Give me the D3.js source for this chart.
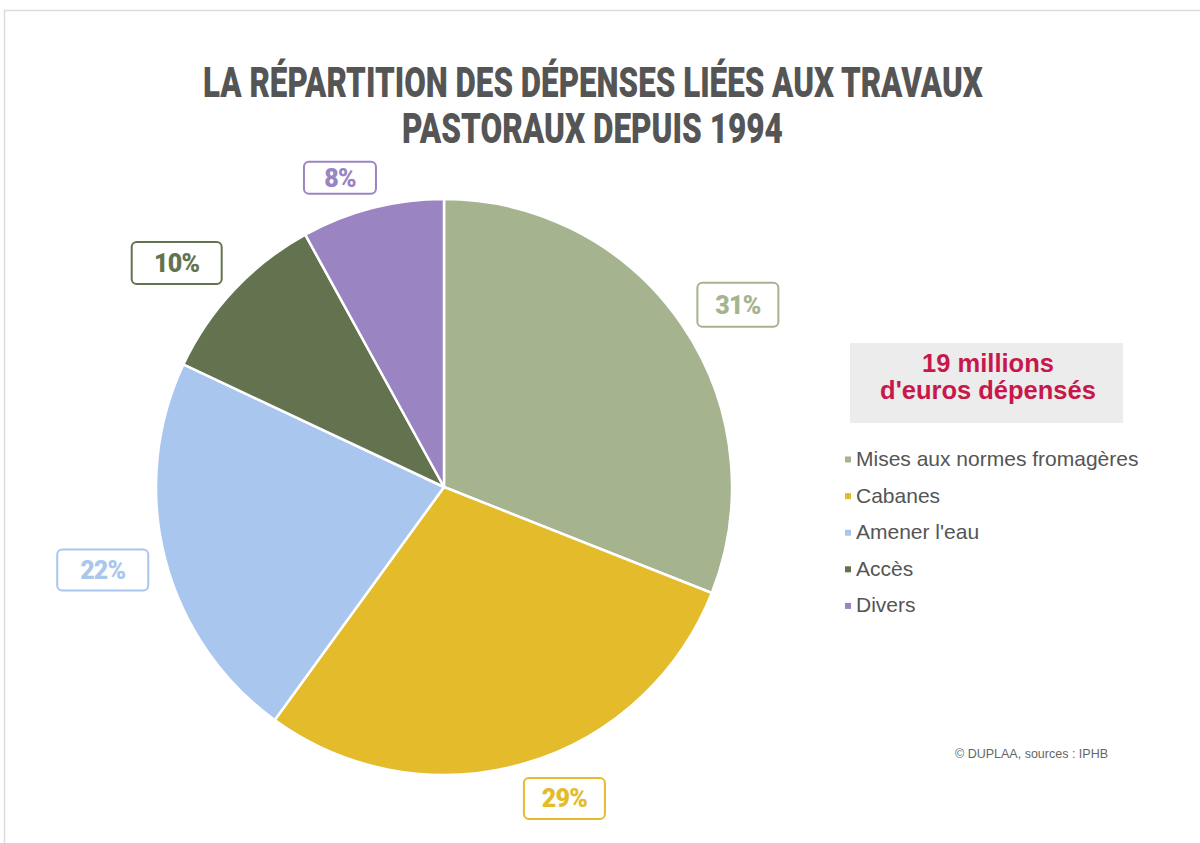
<!DOCTYPE html>
<html>
<head>
<meta charset="utf-8">
<script src="https://cdn.jsdelivr.net/npm/d3@7"></script>
<style>
  body { margin: 0; background: #fff; }
  svg { display: block; }
</style>
</head>
<body>
<svg id="chart"></svg>
<script>
// data
var categories = ["Mises aux normes fromagères", "Cabanes", "Amener l'eau", "Accès", "Divers"];
var shares = [31, 29, 22, 10, 8];
var colors = ["#a5b48f", "#e3bb2b", "#a9c6ee", "#63734f", "#9b84c2"];
var titleLines = ["LA RÉPARTITION DES DÉPENSES LIÉES AUX TRAVAUX", "PASTORAUX DEPUIS 1994"];
var totalLines = ["19 millions", "d'euros dépensés"];
var credit = "© DUPLAA, sources : IPHB";

// label box layout (nudges from the centroid, box sizes)
var labelNudge = [[11, 10], [25, -17], [-10, -2], [-18, 10], [-19, 22]];
var boxSize = [[81, 44], [81, 41], [91, 41], [90, 42], [72, 32]];

function init() {
    var w = 1200;
    var h = 843;

    var svg = d3.select("#chart")
        .attr("width", w)
        .attr("height", h);

    // light frame round the graphic
    svg.append("path")
        .attr("d", "M4.5," + h + "V10.5H" + w)
        .attr("fill", "none")
        .attr("stroke", "#dcdcdc")
        .attr("stroke-width", 1.5);

    // title, squeezed like a condensed face
    var titleX = [203, 402];
    var titleWidths = [780, 381];
    svg.selectAll("text.title")
        .data(titleLines)
        .enter()
        .append("text")
        .attr("class", "title")
        .style("font-family", "Roboto, 'Liberation Sans', sans-serif")
        .style("font-weight", 900)
        .style("font-size", "42px")
        .attr("fill", "#555555")
        .text(function(d){ return d; })
        .attr("transform", function(d, i){
            var natural = this.getComputedTextLength();
            return "translate(" + titleX[i] + "," + (97 + i * 46) + ") scale(" + (titleWidths[i] / natural) + ",1)";
        });

    //pie
    var cx = 444, cy = 487;
    var outerRadius = 288;

    var arc = d3.arc()
        .outerRadius(outerRadius)
        .innerRadius(0);

    var labelArc = d3.arc()
        .outerRadius(342)
        .innerRadius(342);

    var pie = d3.pie()
        .sort(null)
        .value(function(d){ return d; });

    var g = svg.append("g")
        .attr("transform", "translate(" + cx + "," + cy + ")");

    var arcs = g.selectAll("g.arc")
        .data(pie(shares))
        .enter()
        .append("g")
        .attr("class", "arc");

    arcs.append("path")
        .attr("d", arc)
        .attr("fill", function(d, i){ return colors[i]; })
        .attr("stroke", "#fff")
        .attr("stroke-width", 2.5)
        .attr("stroke-linejoin", "round");

    // percentage labels in outlined boxes
    var labels = arcs.append("g")
        .attr("transform", function(d, i){
            var c = labelArc.centroid(d);
            return "translate(" + (c[0] + labelNudge[i][0]) + "," + (c[1] + labelNudge[i][1]) + ")";
        });

    labels.append("rect")
        .attr("x", function(d, i){ return -boxSize[i][0] / 2; })
        .attr("y", function(d, i){ return -boxSize[i][1] / 2; })
        .attr("width", function(d, i){ return boxSize[i][0]; })
        .attr("height", function(d, i){ return boxSize[i][1]; })
        .attr("rx", 5)
        .attr("fill", "#fff")
        .attr("stroke", function(d, i){ return colors[i]; })
        .attr("stroke-width", 2);

    labels.append("text")
        .attr("text-anchor", "middle")
        .attr("dy", "0.36em")
        .style("font-family", "Roboto, 'Liberation Sans', sans-serif")
        .style("font-weight", 900)
        .style("font-size", "25px")
        .style("letter-spacing", "-0.8px")
        .attr("fill", function(d, i){ return colors[i]; })
        .text(function(d){ return d.value + "%"; });

    // total box
    svg.append("rect")
        .attr("x", 850)
        .attr("y", 343)
        .attr("width", 273)
        .attr("height", 80)
        .attr("fill", "#ececec");

    svg.selectAll("text.total")
        .data(totalLines)
        .enter()
        .append("text")
        .attr("class", "total")
        .attr("x", 988)
        .attr("y", function(d, i){ return 372 + i * 27; })
        .attr("text-anchor", "middle")
        .style("font-family", "'Liberation Sans', Arial, sans-serif")
        .style("font-weight", 700)
        .style("font-size", "25.5px")
        .attr("fill", "#c8174a")
        .text(function(d){ return d; });

    // legend
    var legend = svg.selectAll("g.legend")
        .data(categories)
        .enter()
        .append("g")
        .attr("class", "legend")
        .attr("transform", function(d, i){ return "translate(845," + (458.5 + i * 36.6) + ")"; });

    legend.append("rect")
        .attr("x", 0)
        .attr("y", -2)
        .attr("width", 6)
        .attr("height", 6)
        .attr("fill", function(d, i){ return colors[i]; });

    legend.append("text")
        .attr("x", 11)
        .attr("dy", "0.36em")
        .style("font-family", "'Liberation Sans', Arial, sans-serif")
        .style("font-size", "21px")
        .attr("fill", "#555555")
        .text(function(d){ return d; });

    // credit
    svg.append("text")
        .attr("x", 955)
        .attr("y", 758)
        .style("font-family", "'Liberation Sans', Arial, sans-serif")
        .style("font-size", "12.5px")
        .attr("fill", "#666")
        .text(credit);
}

window.onload = init;
</script>
</body>
</html>
